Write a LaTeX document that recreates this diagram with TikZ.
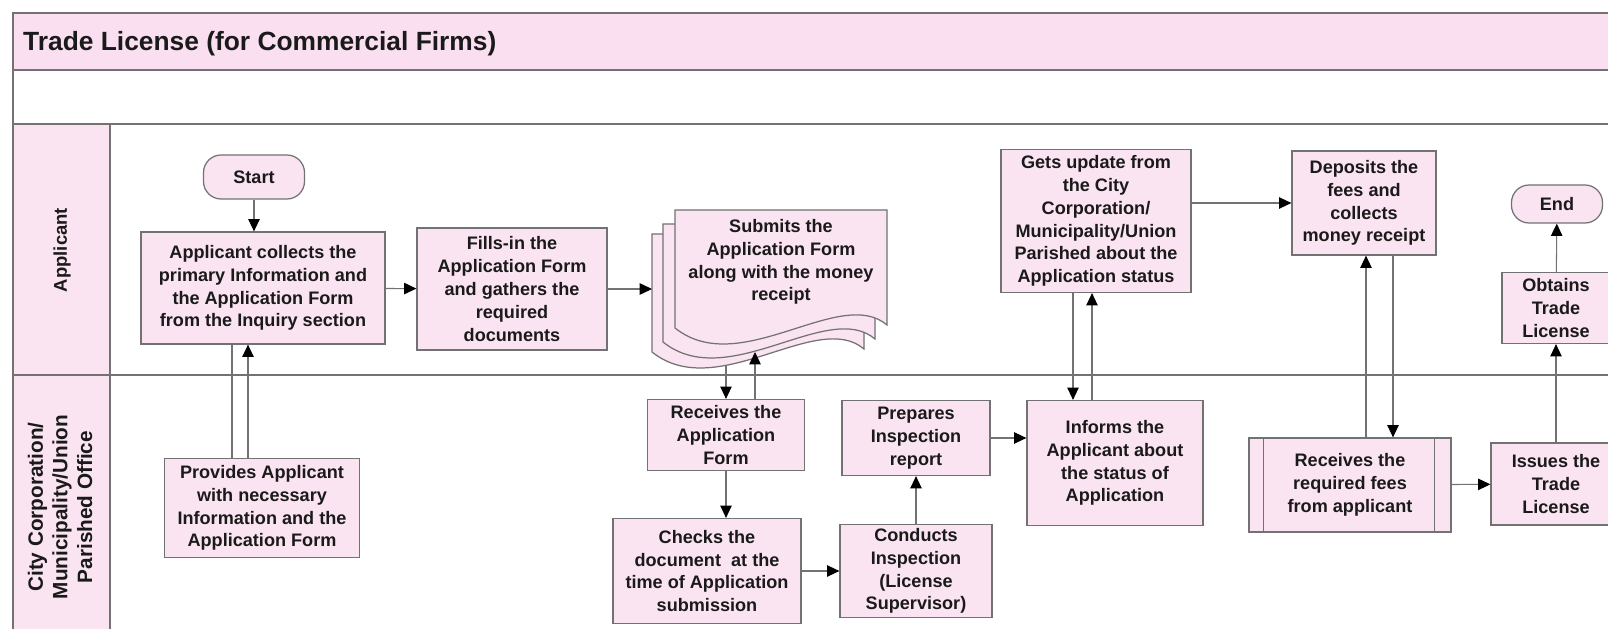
\documentclass[tikz,border=0pt]{standalone}
\usepackage{fontspec}
\setmainfont{Liberation Sans}
\usetikzlibrary{arrows.meta}
\definecolor{boxpink}{HTML}{FBE4F1}
\definecolor{bandpink}{HTML}{FADFF0}
\definecolor{linegray}{HTML}{727272}
\definecolor{inkblack}{HTML}{1A1A1A}

\begin{document}
\begin{tikzpicture}[x=0.2mm,y=-0.2mm,
    box/.style={draw=linegray,line width=0.7pt,fill=boxpink,align=center,
      font=\fontsize{10.3}{13}\selectfont\bfseries,text=inkblack,inner sep=1pt},
    wh/.style 2 args={minimum width=#1*0.2mm,minimum height=#2*0.2mm},
    term/.style={box,rounded corners=10pt},
    lane/.style={font=\fontsize{10.5}{14}\selectfont\bfseries,text=inkblack,align=center,rotate=90},
    flow/.style={draw=linegray,line width=0.6pt,-{Triangle[length=7pt,width=6.5pt,color=black]}},
    plain/.style={draw=linegray,line width=0.6pt},
    sheet/.style={draw=linegray,line width=0.7pt,fill=boxpink}]
  \useasboundingbox[fill=white] (0,0) rectangle (1608,629);

  % pool and lanes
  \fill[bandpink] (13,13) rectangle (1608,70);
  \fill[boxpink] (13,124) rectangle (110,629);
  \draw[linegray,line width=0.8pt] (1608,13) -- (13,13) -- (13,629)
    (13,70) -- (1608,70) (13,124) -- (1608,124) (13,375) -- (1608,375)
    (110,124) -- (110,629);
  \node[anchor=west,font=\fontsize{15}{17}\selectfont\bfseries,text=inkblack] (title) at (17,44)
    {Trade License (for Commercial Firms)};
  \node[lane] (applane) at (62,250) {Applicant};
  \node[lane,font=\fontsize{11.8}{14}\selectfont\bfseries] (citylane) at (60,507)
    {City Corporation/\\Municipality/Union\\Parished Office};

  % applicant lane
  \node[term,wh={101}{44}] (start) at (254,177) {Start};
  \node[box,wh={244}{112}] (collect) at (263,288)
    {Applicant collects the\\primary Information and\\the Application Form\\from the Inquiry section};
  \node[box,wh={190}{122}] (fill) at (512,289)
    {Fills-in the\\Application Form\\and gathers the\\required\\documents};
  \foreach \dx/\dy in {23/24,12/14,0/0}
    \draw[sheet,shift={(-\dx,\dy)}] (675,210) -- (887,210) -- (887,325)
      .. controls (840,285) and (740,380) .. (675,328) -- cycle;
  \node[box,draw=none,fill=none] (submit) at (781,262)
    {Submits the\\Application Form\\along with the money\\receipt};
  \coordinate (subin) at (652,289);
  \coordinate (subdn) at (726,366);
  \coordinate (subup) at (755,352);
  \node[box,wh={190}{143}] (update) at (1096,221)
    {Gets update from\\the City\\Corporation/\\Municipality/Union\\Parished about the\\Application status};
  \node[box,wh={144}{104}] (deposit) at (1364,203)
    {Deposits the\\fees and\\collects\\money receipt};
  \node[term,wh={91}{38}] (finish) at (1557,204) {End};
  \node[box,wh={108}{71}] (obtain) at (1556,308) {Obtains\\Trade\\License};

  % office lane
  \node[box,wh={195}{99}] (provide) at (262,508)
    {Provides Applicant\\with necessary\\Information and the\\Application Form};
  \node[box,wh={157}{71}] (receive) at (726,435) {Receives the\\Application\\Form};
  \node[box,wh={188}{105}] (check) at (707,571)
    {Checks the\\document \ at the\\time of Application\\submission};
  \node[box,wh={148}{75}] (prepare) at (916,438) {Prepares\\Inspection\\report};
  \node[box,wh={152}{93}] (conduct) at (916,571) {Conducts\\Inspection\\(License\\Supervisor)};
  \node[box,wh={176}{125}] (inform) at (1115,463)
    {Informs the\\Applicant about\\the status of\\Application};
  \node[box,wh={202}{94}] (fees) at (1350,485) {Receives the\\required fees\\from applicant};
  \draw[linegray,line width=0.7pt] ([xshift=15*0.2mm]fees.north west) -- ([xshift=15*0.2mm]fees.south west)
    ([xshift=-17*0.2mm]fees.north east) -- ([xshift=-17*0.2mm]fees.south east);
  \node[box,wh={130}{82}] (issue) at (1556,484) {Issues the\\Trade\\License};

  % connectors
  \draw[flow] (start) -- (start |- collect.north);
  \draw[flow] (collect) -- (fill);
  \draw[flow] (fill) -- (subin);
  \draw[plain] (232,0 |- collect.south) -- (232,0 |- provide.north);
  \draw[flow] (248,0 |- provide.north) -- (248,0 |- collect.south);
  \draw[flow] (subdn) -- (subdn |- receive.north);
  \draw[flow] (subup |- receive.north) -- (subup);
  \draw[flow] (receive.south) -- (receive.south |- check.north);
  \draw[flow] (check) -- (conduct);
  \draw[flow] (conduct) -- (prepare);
  \draw[flow] (prepare.east) -- (prepare.east -| inform.west);
  \draw[flow] (1073,0 |- update.south) -- (1073,0 |- inform.north);
  \draw[flow] (1092,0 |- inform.north) -- (1092,0 |- update.south);
  \draw[flow] (deposit.west -| update.east) -- (deposit.west);
  \draw[flow] (1366,0 |- fees.north) -- (1366,0 |- deposit.south);
  \draw[flow] (1393,0 |- deposit.south) -- (1393,0 |- fees.north);
  \draw[flow] (fees) -- (issue);
  \draw[flow] (issue) -- (obtain);
  \draw[flow] (obtain) -- (finish);
\end{tikzpicture}
\end{document}
